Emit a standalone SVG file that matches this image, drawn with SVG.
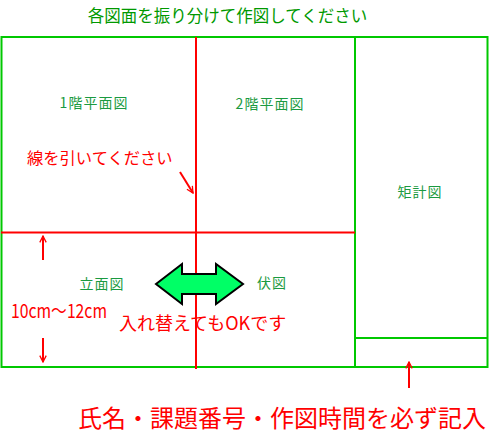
<svg xmlns="http://www.w3.org/2000/svg" width="489" height="433" viewBox="0 0 489 433">
<style>
.frame{fill:none;stroke:#00c800;stroke-width:2}
.red{stroke:#ff0000;stroke-width:2;fill:none}
.lbl{font-family:"Noto Sans CJK JP","Noto Sans",sans-serif;font-size:14px;fill:#1a9a40;letter-spacing:1px;text-anchor:middle;dominant-baseline:central}
.rt{font-family:"Noto Sans CJK JP","Liberation Sans",sans-serif;fill:#ff0000;dominant-baseline:central}
.title{font-family:"Noto Sans CJK JP","Noto Sans",sans-serif;font-size:16.5px;fill:#009900;text-anchor:middle;dominant-baseline:central}
</style>
<defs>
<marker id="ah" viewBox="0 0 10 10" refX="9" refY="5" markerWidth="8" markerHeight="8" markerUnits="userSpaceOnUse" orient="auto">
<path d="M1,1 L9,5 L1,9" fill="none" stroke="#ff0000" stroke-width="1.6"/>
</marker>
</defs>
<rect width="489" height="433" fill="#ffffff"/>
<text class="title" x="227.5" y="15">各図面を振り分けて作図してください</text>
<g id="frame">
<rect class="frame" x="1.5" y="37" width="486" height="330"/>
<line class="frame" x1="355" y1="37" x2="355" y2="367"/>
<line class="frame" x1="355" y1="338" x2="487" y2="338"/>
</g>
<g id="guides">
<line class="red" x1="196" y1="37" x2="196" y2="369"/>
<line class="red" x1="1" y1="232.5" x2="355" y2="232.5"/>
</g>
<g id="n1"><text class="lbl" x="94" y="102">1階平面図</text></g>
<g id="n2"><text class="lbl" x="270" y="103">2階平面図</text></g>
<g id="n3"><text class="lbl" x="420" y="191">矩計図</text></g>
<g id="n4"><text class="lbl" x="102" y="283">立面図</text></g>
<g id="n5"><text class="lbl" x="272" y="282">伏図</text></g>
<g id="notes">
<text class="rt" x="27" y="157" font-size="16.3">線を引いてください</text>
<text class="rt" x="11" y="309" font-size="19" textLength="96" lengthAdjust="spacingAndGlyphs">10cm～12cm</text>
<text class="rt" x="119" y="322" font-size="18">入れ替えてもOKです</text>
<text class="rt" x="78" y="416" font-size="24">氏名・課題番号・作図時間を必ず記入</text>
</g>
<g id="connectors">
<line class="red" x1="180" y1="172" x2="193" y2="193" marker-end="url(#ah)"/>
<line class="red" x1="43" y1="260" x2="43" y2="236" marker-end="url(#ah)"/>
<line class="red" x1="43" y1="338" x2="43" y2="362" marker-end="url(#ah)"/>
<line class="red" x1="409" y1="388" x2="409" y2="362" marker-end="url(#ah)"/>
<path d="M156,284 L182,264 L182,274 L216,274 L216,264 L243,284 L216,304 L216,294 L182,294 L182,304 Z" fill="#00ff66" stroke="#000000" stroke-width="2" stroke-linejoin="miter"/>
</g>
</svg>
